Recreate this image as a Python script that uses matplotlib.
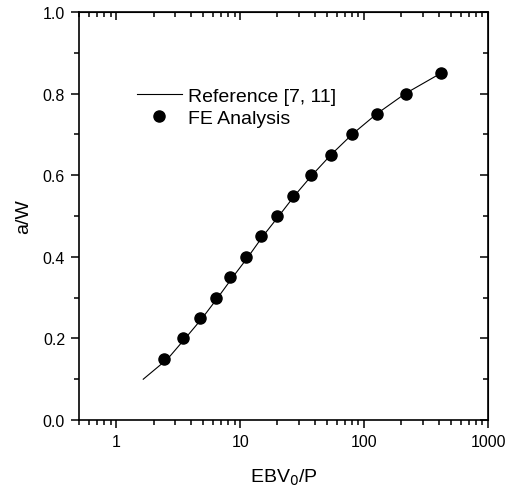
import matplotlib.pyplot as plt
from matplotlib.ticker import LogLocator, MultipleLocator, NullFormatter

plt.rcParams['font.family'] = ['Liberation Sans', 'DejaVu Sans']

# FE analysis points
fe_x = [2.44, 3.46, 4.78, 6.40, 8.35, 11.2, 14.6, 19.9, 26.6, 37.5, 53.7, 80.5, 126, 216, 417]
fe_y = [0.15, 0.20, 0.25, 0.30, 0.35, 0.40, 0.45, 0.50, 0.55, 0.60, 0.65, 0.70, 0.75, 0.80, 0.85]

# reference curve [7, 11]
ref_x = [1.65, 2.6, 3.6, 4.95, 6.6, 8.7, 11.6, 15.2, 20.5, 27.5, 38, 54, 80, 126, 215, 417]
ref_y = [0.10, 0.15, 0.20, 0.25, 0.30, 0.35, 0.40, 0.45, 0.50, 0.55, 0.60, 0.65, 0.70, 0.75, 0.80, 0.85]

fig = plt.figure(figsize=(5.1, 4.89), dpi=100)
ax = fig.add_axes([79/510, 1 - 421/489, (488 - 79)/510, (421 - 13)/489])

ax.plot(ref_x, ref_y, color='black', linewidth=0.8, label='Reference [7, 11]')
ax.plot(fe_x, fe_y, 'o', color='black', markersize=8, label='FE Analysis')

ax.set_xscale('log')
ax.set_xlim(0.5, 1000)
ax.set_ylim(0, 1.0)
ax.set_xticks([1, 10, 100, 1000])
ax.set_xticklabels(['1', '10', '100', '1000'])
ax.xaxis.set_minor_locator(LogLocator(base=10, subs=range(2, 10)))
ax.xaxis.set_minor_formatter(NullFormatter())
ax.yaxis.set_major_locator(MultipleLocator(0.2))
ax.yaxis.set_minor_locator(MultipleLocator(0.1))
ax.yaxis.set_major_formatter(plt.FormatStrFormatter('%.1f'))

for s in ax.spines.values():
    s.set_linewidth(1.2)

ax.tick_params(which='both', direction='out', labelsize=11.5, width=1.1)
ax.tick_params(which='major', length=6, pad=4)
ax.tick_params(which='minor', length=3.5)

# mirrored ticks pointing inward on top / right
top = ax.secondary_xaxis('top')
top.tick_params(which='both', direction='in', labeltop=False, width=1.1)
top.tick_params(which='major', length=6)
top.tick_params(which='minor', length=3.5)
top.xaxis.set_minor_locator(LogLocator(base=10, subs=range(2, 10)))
top.xaxis.set_minor_formatter(NullFormatter())
top.set_xticks([1, 10, 100, 1000])
top.set_xticklabels([])

right = ax.secondary_yaxis('right')
right.tick_params(which='both', direction='in', labelright=False, width=1.1)
right.tick_params(which='major', length=6)
right.tick_params(which='minor', length=3.5)
right.yaxis.set_major_locator(MultipleLocator(0.2))
right.yaxis.set_minor_locator(MultipleLocator(0.1))
right.set_yticklabels([])

ax.set_xlabel('EBV$_0$/P', fontsize=14, labelpad=13)
ax.set_ylabel('a/W', fontsize=14, labelpad=8)

ax.legend(loc='upper left', bbox_to_anchor=(0.142, 0.815), frameon=False, fontsize=14,
          handlelength=2.3, handletextpad=0.3, borderpad=0, labelspacing=0.2,
          borderaxespad=0)

fig.savefig('out.png', dpi=100)
